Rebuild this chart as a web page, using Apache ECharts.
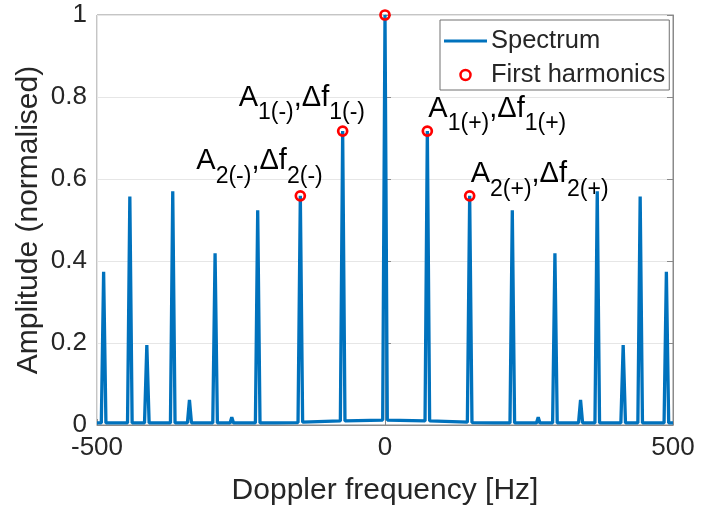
<!DOCTYPE html>
<html>
<head>
<meta charset="utf-8">
<script src="https://cdn.jsdelivr.net/npm/echarts@6/dist/echarts.min.js"></script>
<style>
  html, body { margin: 0; padding: 0; background: #fff; }
  #chart { width: 702px; height: 508px; }
</style>
</head>
<body>
<div id="chart"></div>
<script>
// Doppler spectrum samples (frequency in Hz, normalised amplitude)
const specHz = [
  -500, -492.5, -488.5, -484.5, -447, -443, -439, -417.5, -413.5, -409.5,
  -372.5, -368.5, -364.5, -343, -339.5, -336, -299, -295, -291, -269, -266, -263,
  -225, -221, -217, -195, -192, -189, -151, -147, -143, -77.5, -73.5, -69.5,
  -4, 0, 4,
  69.5, 73.5, 77.5, 143, 147, 151, 189, 192, 195, 217, 221, 225,
  263, 266, 269, 291, 295, 299, 336, 339.5, 343, 364.5, 368.5, 372.5,
  409.5, 413.5, 417.5, 439, 443, 447, 484.5, 488.5, 492.5, 500
];
const specAmp = [
  0.005, 0.005, 0.374, 0.005, 0.005, 0.557, 0.005, 0.005, 0.195, 0.005,
  0.005, 0.570, 0.005, 0.005, 0.061, 0.005, 0.005, 0.419, 0.005, 0.005, 0.019, 0.005,
  0.005, 0.524, 0.005, 0.005, 0.001, 0.005, 0.006, 0.559, 0.007, 0.010, 0.717, 0.010,
  0.012, 1.000, 0.012,
  0.010, 0.717, 0.010, 0.007, 0.559, 0.006, 0.005, 0.001, 0.005, 0.005, 0.524, 0.005,
  0.005, 0.019, 0.005, 0.005, 0.419, 0.005, 0.005, 0.061, 0.005, 0.005, 0.570, 0.005,
  0.005, 0.195, 0.005, 0.005, 0.557, 0.005, 0.005, 0.374, 0.005, 0.005
];

// First harmonics picked from the spectrum
const harmHz  = [-147, -73.5, 0, 73.5, 147];
const harmAmp = [0.559, 0.717, 1.000, 0.717, 0.559];
const harmIdx = ['2(-)', '1(-)', '', '1(+)', '2(+)'];

// Axis ticks
const xTicks = [-500, 0, 500];
const yTicks = [0, 0.2, 0.4, 0.6, 0.8, 1];

const FONT = '"Liberation Sans", Arial, Helvetica, sans-serif';
const TXT = '#262626';
const AXC = '#8a8a8a';
const BLUE = '#0072BD';

// label anchor offsets for each annotated harmonic (px)
const labelOffset = {
  '2(-)': [-104, -8],
  '1(-)': [-104, -7],
  '1(+)': [1, 4],
  '2(+)': [1, 5]
};

const spectrum = specHz.map((f, i) => [f, specAmp[i]]);
const harmonics = harmHz.map((f, i) => {
  const k = harmIdx[i];
  const item = { value: [f, harmAmp[i]] };
  if (k) {
    item.label = {
      show: true,
      position: 'inside',
      align: 'left',
      verticalAlign: 'bottom',
      offset: labelOffset[k],
      formatter: '{m|A}{s|' + k + '}{m|,\u0394f}{s|' + k + '}'
    };
  }
  return item;
});

const chart = echarts.init(document.getElementById('chart'), null, { renderer: 'canvas' });
chart.setOption({
  animation: false,
  backgroundColor: '#fff',
  textStyle: { fontFamily: FONT, color: TXT },
  grid: {
    left: 97, top: 15, width: 576, height: 410,
    outerBoundsMode: 'none',
    containLabel: false,
    show: true, borderColor: AXC, borderWidth: 1, backgroundColor: 'transparent'
  },
  legend: {
    orient: 'vertical',
    left: 440, top: 20,
    padding: [8, 4, 2, 4],
    itemWidth: 43, itemHeight: 10, itemGap: 8,
    borderColor: '#707070', borderWidth: 1,
    backgroundColor: '#fff',
    textStyle: { fontFamily: FONT, fontSize: 25.5, color: TXT, padding: [0, 0, 0, -1] },
    data: [
      { name: 'Spectrum', icon: 'path://M0,0H43V3H0Z', itemStyle: { color: BLUE } },
      { name: 'First harmonics', icon: 'circle',
        itemStyle: { color: 'rgba(0,0,0,0)', borderColor: '#ff0000', borderWidth: 2.5 } }
    ]
  },
  xAxis: {
    type: 'value',
    min: xTicks[0], max: xTicks[xTicks.length - 1], interval: 500,
    name: 'Doppler frequency [Hz]',
    nameLocation: 'middle', nameGap: 51,
    nameMoveOverlap: false,
    nameTextStyle: { fontFamily: FONT, fontSize: 30, color: TXT },
    axisLine: { show: true, lineStyle: { color: AXC, width: 1 } },
    axisTick: { show: true, inside: true, length: 6, lineStyle: { color: AXC } },
    axisLabel: { fontFamily: FONT, fontSize: 26, color: TXT, margin: 10 },
    splitLine: { show: true, lineStyle: { color: '#e6e6e6', width: 1 } }
  },
  yAxis: [{
    type: 'value',
    min: yTicks[0], max: yTicks[yTicks.length - 1], interval: 0.2,
    name: 'Amplitude (normalised)',
    nameLocation: 'middle', nameGap: 53,
    nameMoveOverlap: false,
    nameTextStyle: { fontFamily: FONT, fontSize: 30, color: TXT },
    axisLine: { show: true, lineStyle: { color: AXC, width: 1 } },
    axisTick: { show: true, inside: true, length: 6, lineStyle: { color: AXC } },
    axisLabel: { fontFamily: FONT, fontSize: 26, color: TXT, margin: 10 },
    splitLine: { show: true, lineStyle: { color: '#e6e6e6', width: 1 } }
  }, {
    type: 'value', position: 'right',
    min: yTicks[0], max: yTicks[yTicks.length - 1], interval: 0.2,
    axisLine: { show: true, lineStyle: { color: AXC, width: 1 } },
    axisTick: { show: true, inside: true, length: 6, lineStyle: { color: AXC } },
    axisLabel: { show: false },
    splitLine: { show: false }
  }],
  series: [
    {
      name: 'Spectrum',
      type: 'line',
      data: spectrum,
      symbol: 'none',
      lineStyle: { color: BLUE, width: 3.3 },
      itemStyle: { color: BLUE },
      z: 2
    },
    {
      name: 'First harmonics',
      type: 'scatter',
      data: harmonics,
      symbol: 'circle',
      symbolSize: 9,
      itemStyle: { color: 'rgba(0,0,0,0)', borderColor: '#ff0000', borderWidth: 2.7, opacity: 1 },
      label: {
        show: false,
        color: '#000',
        rich: {
          m: { fontFamily: FONT, fontSize: 29, lineHeight: 29, color: '#000', verticalAlign: 'bottom', padding: [0, 0, 12, 0] },
          s: { fontFamily: FONT, fontSize: 23, lineHeight: 23, color: '#000', verticalAlign: 'bottom' }
        }
      },
      emphasis: { disabled: true },
      z: 3
    }
  ]
});
</script>
</body>
</html>
